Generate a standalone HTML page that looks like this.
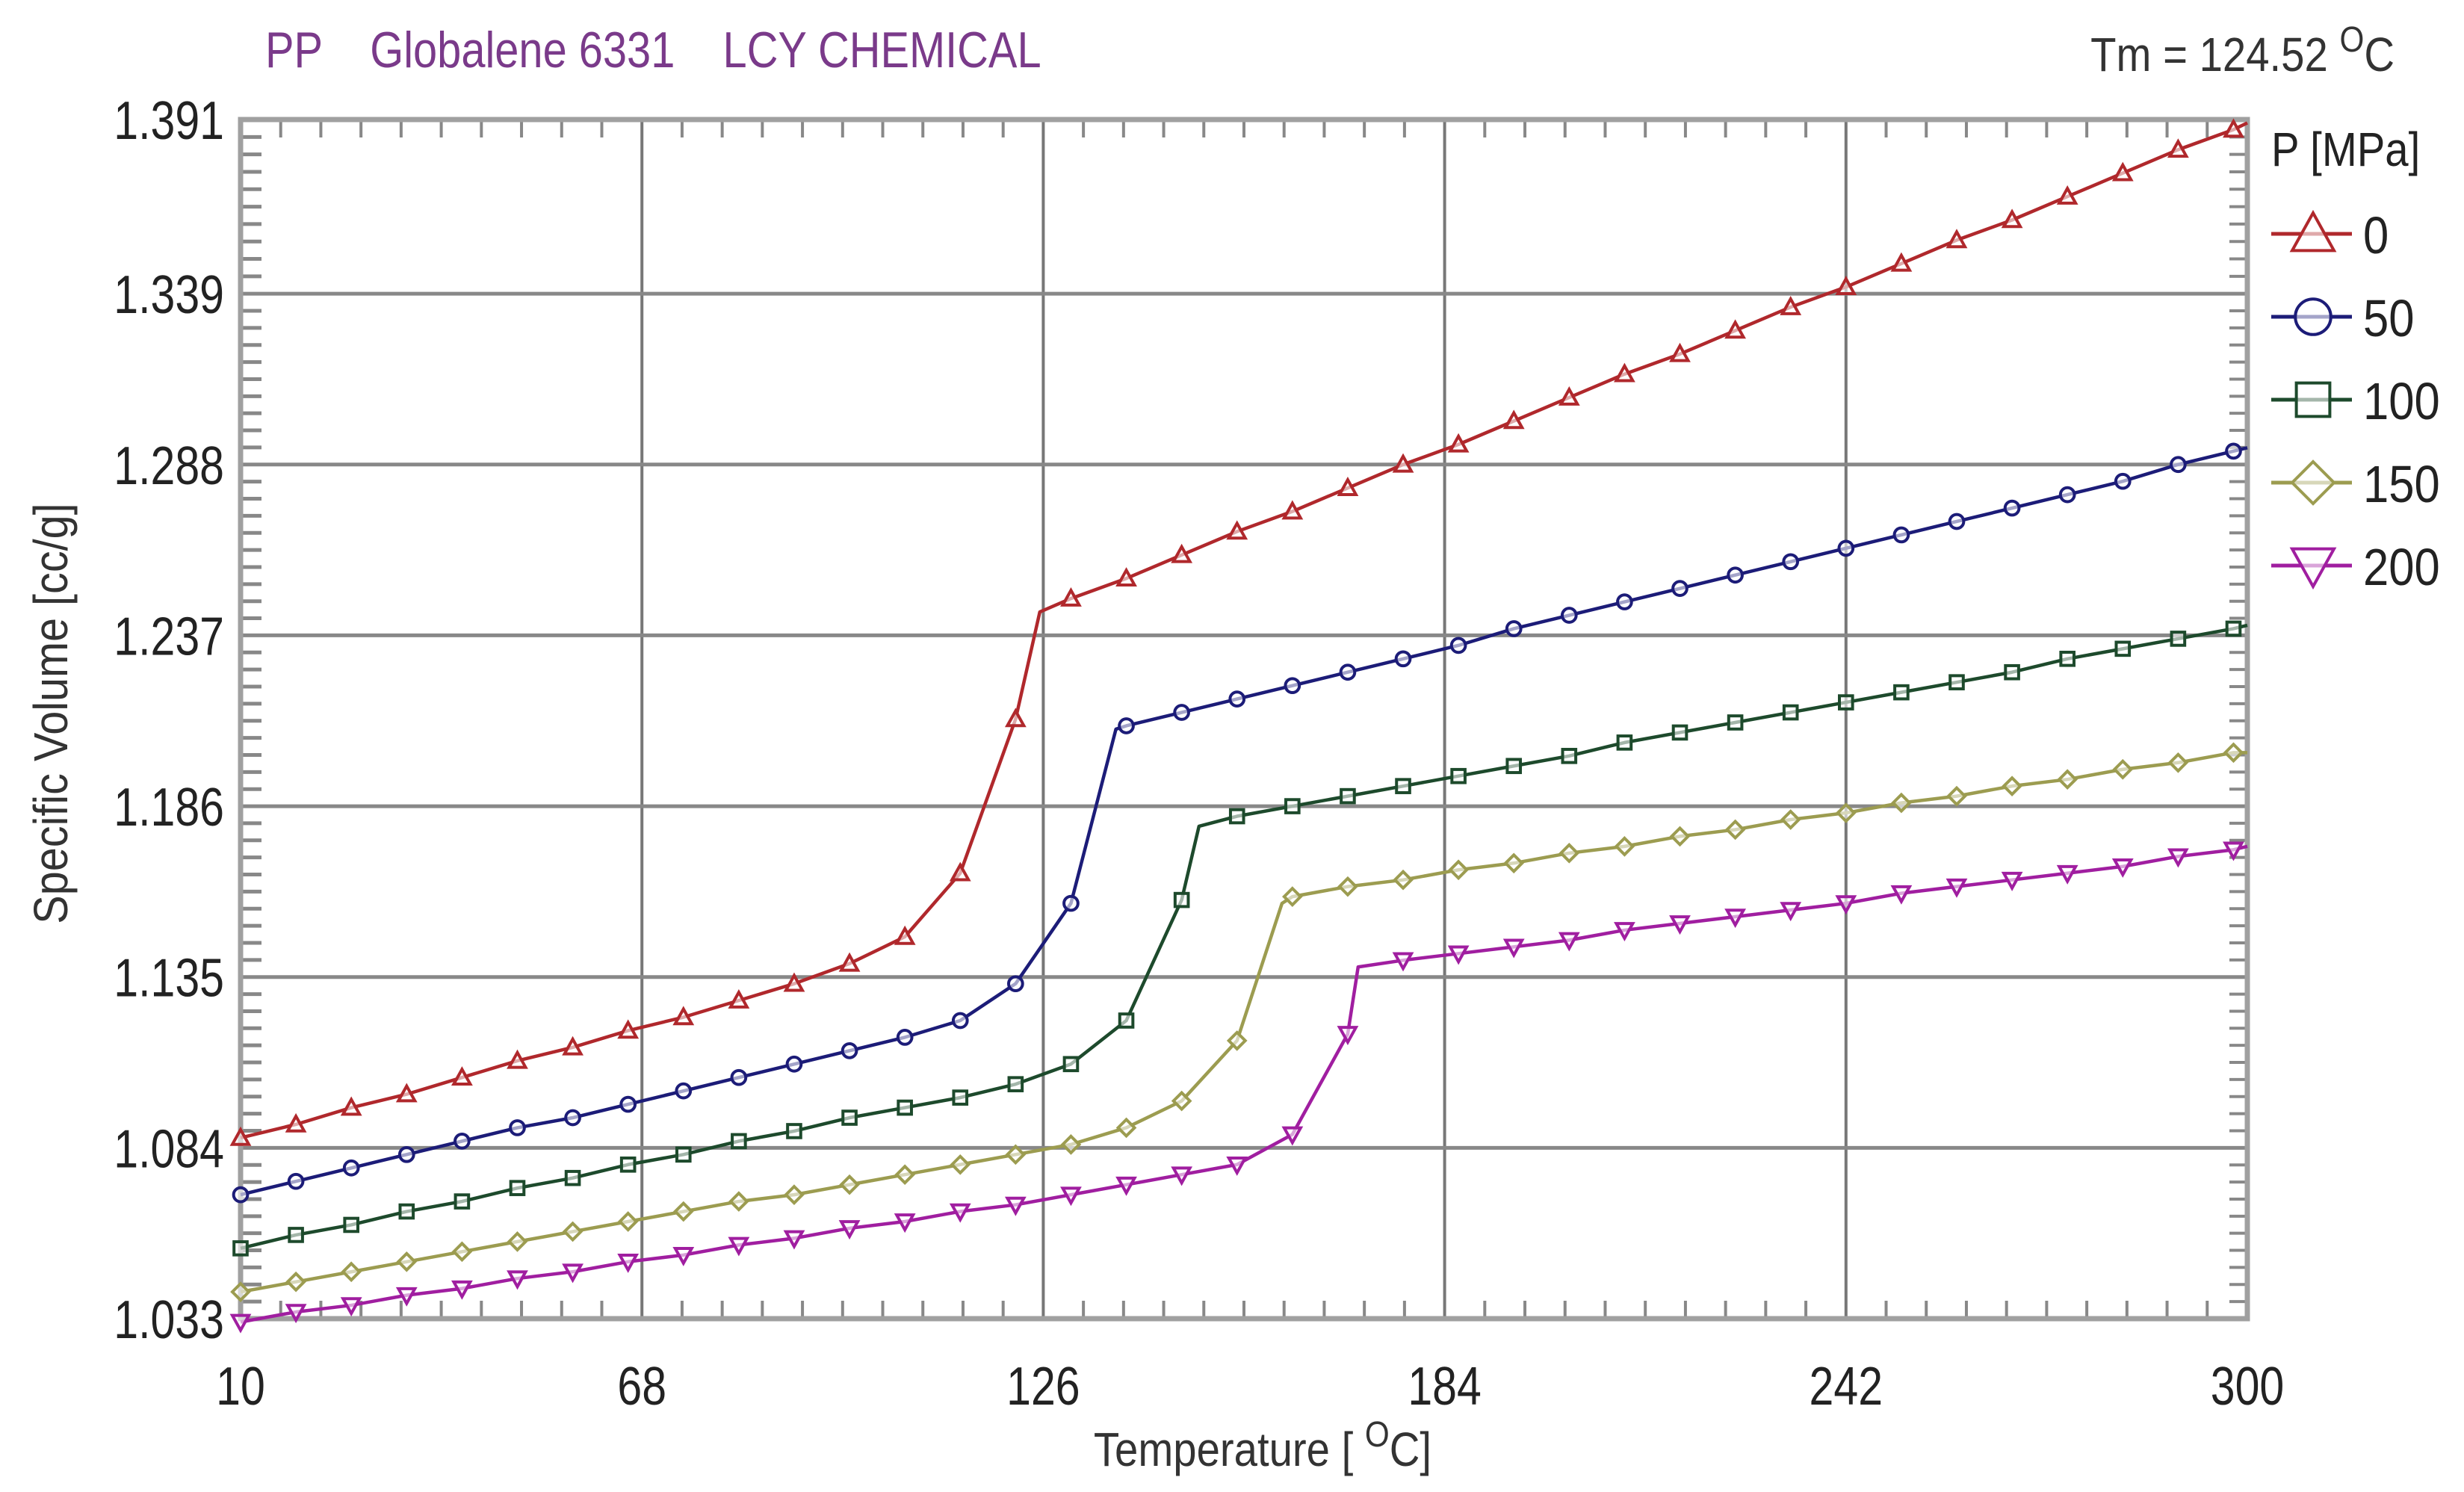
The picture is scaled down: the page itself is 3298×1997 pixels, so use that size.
<!DOCTYPE html>
<html><head><meta charset="utf-8"><style>
html,body{margin:0;padding:0;background:#fff;}
svg{display:block;font-family:"Liberation Sans",sans-serif;}
</style></head><body>
<svg id="chart" width="3298" height="1997" viewBox="0 0 3298 1997" xmlns="http://www.w3.org/2000/svg">
<rect width="3298" height="1997" fill="#fff"/>
<text x="355" y="90" font-size="68" fill="#7a3a8a" transform="translate(355,0) scale(0.85,1) translate(-355,0)" xml:space="preserve">PP    Globalene 6331    LCY CHEMICAL</text>
<text x="3205" y="95" font-size="64" fill="#333" text-anchor="end" transform="translate(3205,0) scale(0.88,1) translate(-3205,0)">Tm = 124.52 <tspan dy="-26" font-size="48">O</tspan><tspan dy="26">C</tspan></text>
<g id="grid"></g>
<g id="ticks"></g>
<g id="series"></g>
<g id="legend"></g>
<text transform="translate(90,955) rotate(-90) scale(0.9,1)" font-size="64" fill="#333" text-anchor="middle">Specific Volume [cc/g]</text>
<text x="1690" y="1962" font-size="64" fill="#333" text-anchor="middle" transform="translate(1690,0) scale(0.88,1) translate(-1690,0)">Temperature [ <tspan dy="-26" font-size="48">O</tspan><tspan dy="26">C]</tspan></text>
</svg>
<script>
const xTicks = [10, 68, 126, 184, 242, 300];
const yTicks = [1.033, 1.084, 1.135, 1.186, 1.237, 1.288, 1.339, 1.391];
const markerT = [10,18,26,34,42,50,58,66,74,82,90,98,106,114,122,130,138,146,154,162,170,178,186,194,202,210,218,226,234,242,250,258,266,274,282,290,298];
const p0 = [1.087,1.091,1.096,1.100,1.105,1.110,1.114,1.119,1.123,1.128,1.133,1.139,1.147,1.166,1.212,1.248,1.254,1.261,1.268,1.274,1.281,1.288,1.294,1.301,1.308,1.315,1.321,1.328,1.335,1.341,1.348,1.355,1.361,1.368,1.375,1.382,1.388];
const p50 = [1.070,1.074,1.078,1.082,1.086,1.090,1.093,1.097,1.101,1.105,1.109,1.113,1.117,1.122,1.133,1.157,1.210,1.214,1.218,1.222,1.226,1.230,1.234,1.239,1.243,1.247,1.251,1.255,1.259,1.263,1.267,1.271,1.275,1.279,1.283,1.288,1.292];
const p100 = [1.054,1.058,1.061,1.065,1.068,1.072,1.075,1.079,1.082,1.086,1.089,1.093,1.096,1.099,1.103,1.109,1.122,1.158,1.183,1.186,1.189,1.192,1.195,1.198,1.201,1.205,1.208,1.211,1.214,1.217,1.220,1.223,1.226,1.230,1.233,1.236,1.239];
const p150 = [1.041,1.044,1.047,1.050,1.053,1.056,1.059,1.062,1.065,1.068,1.070,1.073,1.076,1.079,1.082,1.085,1.090,1.098,1.116,1.159,1.162,1.164,1.167,1.169,1.172,1.174,1.177,1.179,1.182,1.184,1.187,1.189,1.192,1.194,1.197,1.199,1.202];
const p200 = [1.032,1.035,1.037,1.040,1.042,1.045,1.047,1.050,1.052,1.055,1.057,1.060,1.062,1.065,1.067,1.070,1.073,1.076,1.079,1.088,1.118,1.140,1.142,1.144,1.146,1.149,1.151,1.153,1.155,1.157,1.160,1.162,1.164,1.166,1.168,1.171,1.173];
const kinkT = [125.5, 136.5, 148.5, 160.5, 171.5];
const kinkV = [1.244, 1.209, 1.180, 1.157, 1.138];
const endV = [1.390, 1.293, 1.240, 1.202, 1.174];
const pressures = ["0","50","100","150","200"];
const colors = ["#b0282c","#1c1c78","#1d4a2c","#9c9c50","#a01ea0"];
const shapes = ["tri","circle","square","diamond","trid"];

const L=322,R=3008,T=160,B=1765;
const xMin=10,xMax=300,yMin=1.033,yMax=1.391;
const sx=v=>L+(v-xMin)/(xMax-xMin)*(R-L);
const sy=v=>B-(v-yMin)/(yMax-yMin)*(B-T);
const NS="http://www.w3.org/2000/svg";
function mk(tag,attrs,parent){const e=document.createElementNS(NS,tag);for(const k in attrs)e.setAttribute(k,attrs[k]);parent.appendChild(e);return e;}

const grid=document.getElementById('grid');
xTicks.slice(1,-1).forEach(t=>{
  const l=mk('line',{x1:sx(t),x2:sx(t),y1:T,y2:B,stroke:'#777','stroke-width':4},grid);
  
  
});
yTicks.slice(1,-1).forEach(t=>{
  const l=mk('line',{x1:L,x2:R,y1:sy(t),y2:sy(t),stroke:'#888','stroke-width':5},grid);
  
  
});
const ticks=document.getElementById('ticks');
for(let i=0;i<xTicks.length-1;i++){for(let j=1;j<10;j++){const v=xTicks[i]+(xTicks[i+1]-xTicks[i])*j/10;
  mk('line',{x1:sx(v),x2:sx(v),y1:T,y2:T+24,stroke:'#888','stroke-width':4},ticks);
  mk('line',{x1:sx(v),x2:sx(v),y1:B,y2:B-24,stroke:'#888','stroke-width':4},ticks);}}
for(let i=0;i<yTicks.length-1;i++){for(let j=1;j<10;j++){const v=yTicks[i]+(yTicks[i+1]-yTicks[i])*j/10;
  mk('line',{x1:L,x2:L+28,y1:sy(v),y2:sy(v),stroke:'#888','stroke-width':5},ticks);
  mk('line',{x1:R,x2:R-24,y1:sy(v),y2:sy(v),stroke:'#888','stroke-width':4},ticks);}}
const frame=mk('rect',{x:L,y:T,width:R-L,height:B-T,fill:'none',stroke:'#a0a0a0','stroke-width':7},ticks);


xTicks.forEach(t=>{
  const x=sx(t);
  const tx=mk('text',{x:x,y:1880,'font-size':72,fill:'#222','text-anchor':'middle',transform:`translate(${x},0) scale(0.82,1) translate(${-x},0)`},ticks);
  tx.textContent=t;
  
  
});
yTicks.forEach(t=>{
  const tx=mk('text',{x:300,y:sy(t)+26,'font-size':72,fill:'#222','text-anchor':'end',transform:`translate(300,0) scale(0.82,1) translate(-300,0)`},ticks);
  tx.textContent=t.toFixed(3);
  
  
});

function marker(shape,cx,cy,s,color,parent){
  const a={fill:'#fff','fill-opacity':0.6,stroke:color,'stroke-width':4};
  let e;
  if(shape==='tri') e=mk('polygon',Object.assign({points:`${cx},${cy-s} ${cx-s},${cy+s*0.8} ${cx+s},${cy+s*0.8}`},a),parent);
  else if(shape==='trid') e=mk('polygon',Object.assign({points:`${cx},${cy+s} ${cx-s},${cy-s*0.8} ${cx+s},${cy-s*0.8}`},a),parent);
  else if(shape==='circle') e=mk('circle',Object.assign({cx:cx,cy:cy,r:s*0.85},a),parent);
  else if(shape==='square') e=mk('rect',Object.assign({x:cx-s*0.8,y:cy-s*0.8,width:s*1.6,height:s*1.6},a),parent);
  else e=mk('polygon',Object.assign({points:`${cx},${cy-s} ${cx+s},${cy} ${cx},${cy+s} ${cx-s},${cy}`},a),parent);
  return e;
}

const seriesG=document.getElementById('series');
const allVals=[p0,p50,p100,p150,p200];
allVals.forEach((vals,i)=>{
  const g=mk('g',{},seriesG);
  
  
  const pts=markerT.map((t,k)=>[t,vals[k]]);
  pts.push([kinkT[i],kinkV[i]]);
  pts.push([300,endV[i]]);
  pts.sort((a,b)=>a[0]-b[0]);
  const path=mk('polyline',{points:pts.map(p=>sx(p[0])+','+sy(p[1])).join(' '),fill:'none',stroke:colors[i],'stroke-width':4.5,'stroke-linejoin':'round'},g);
  
  
  markerT.forEach((t,k)=>{
    const m=marker(shapes[i],sx(t),sy(vals[k]),11,colors[i],g);
    
    
  });
});

const lg=document.getElementById('legend');
const lt=mk('text',{x:3040,y:222,'font-size':64,fill:'#222',transform:'translate(3040,0) scale(0.88,1) translate(-3040,0)'},lg);
lt.textContent='P [MPa]';


pressures.forEach((p,i)=>{
  const y=313+i*111;
  const g=mk('g',{},lg);
  
  
  mk('line',{x1:3040,x2:3148,y1:y,y2:y,stroke:colors[i],'stroke-width':5},g);
  marker(shapes[i],3096,y,28,colors[i],g);
  const t=mk('text',{x:3163,y:y+26,'font-size':70,fill:'#222',transform:'translate(3163,0) scale(0.88,1) translate(-3163,0)'},g);
  t.textContent=p;
});
</script>
</body></html>
